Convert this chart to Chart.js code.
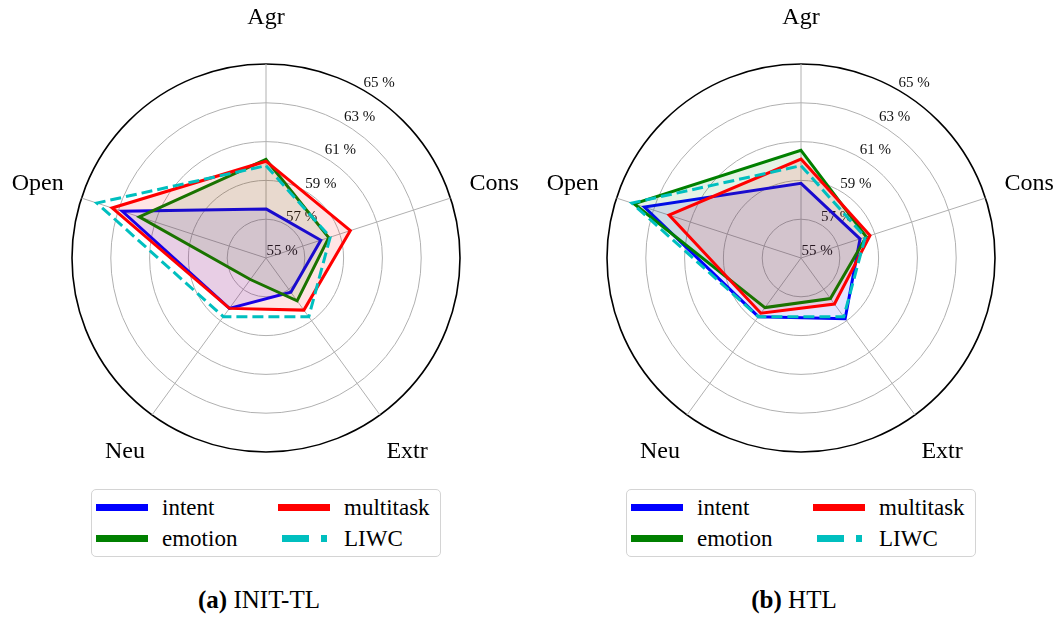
<!DOCTYPE html>
<html><head><meta charset="utf-8">
<script src="https://cdn.jsdelivr.net/npm/chart.js@4"></script>
<style>
body{margin:0;background:#fff;width:1059px;height:617px;overflow:hidden;position:relative;font-family:"Liberation Serif","Times New Roman",serif;}
canvas{position:absolute;top:0}
.legend{position:absolute;top:489px;width:350px;height:68px;box-sizing:border-box;border:1.5px solid #d4d4d4;border-radius:5px;background:#fff}
.h{position:absolute;height:7px}
.t{position:absolute;font-family:"Liberation Serif","Times New Roman",serif;font-size:23px;line-height:23px;color:#000;white-space:nowrap}
.cap{position:absolute;top:587px;width:300px;text-align:center;font-family:"Liberation Serif","Times New Roman",serif;font-size:25px;line-height:25px;color:#000;white-space:nowrap}
</style></head>
<body>
<canvas id="c1" width="530" height="480" style="left:0"></canvas>
<canvas id="c2" width="524" height="480" style="left:535px"></canvas>

<div class="legend" style="left:91px">
  <div class="h" style="left:4px;top:13.5px;width:52px;background:#0000ff"></div>
  <div class="t" style="left:70px;top:6px">intent</div>
  <div class="h" style="left:186px;top:13.5px;width:52px;background:#ff0000"></div>
  <div class="t" style="left:252px;top:6px">multitask</div>
  <div class="h" style="left:4px;top:44.5px;width:52px;background:#008000"></div>
  <div class="t" style="left:70px;top:36.7px">emotion</div>
  <div class="h" style="left:190px;top:44.5px;width:45px;background:linear-gradient(to right,#00bfbf 0 26.7px,transparent 26.7px 39px,#00bfbf 39px 45px)"></div>
  <div class="t" style="left:252px;top:36.7px">LIWC</div>
</div>
<div class="legend" style="left:626px">
  <div class="h" style="left:4px;top:13.5px;width:52px;background:#0000ff"></div>
  <div class="t" style="left:70px;top:6px">intent</div>
  <div class="h" style="left:186px;top:13.5px;width:52px;background:#ff0000"></div>
  <div class="t" style="left:252px;top:6px">multitask</div>
  <div class="h" style="left:4px;top:44.5px;width:52px;background:#008000"></div>
  <div class="t" style="left:70px;top:36.7px">emotion</div>
  <div class="h" style="left:190px;top:44.5px;width:45px;background:linear-gradient(to right,#00bfbf 0 26.7px,transparent 26.7px 39px,#00bfbf 39px 45px)"></div>
  <div class="t" style="left:252px;top:36.7px">LIWC</div>
</div>
<div class="cap" style="left:109px"><b>(a)</b> INIT-TL</div>
<div class="cap" style="left:644px"><b>(b)</b> HTL</div>

<script>
const categories = ['Agr', 'Cons', 'Extr', 'Neu', 'Open'];
const tickValues = [55, 57, 59, 61, 63, 65];
const tickLabels = ['55 %', '57 %', '59 %', '61 %', '63 %', '65 %'];
const seriesNames = ['intent', 'emotion', 'multitask', 'LIWC'];

// (a) INIT-TL
const intentInit    = [57.53, 57.97, 57.18, 58.21, 62.79];
const emotionInit   = [60.08, 58.40, 57.73, 56.37, 61.87];
const multitaskInit = [59.99, 59.57, 58.32, 58.21, 63.34];
// (b) HTL
const intentHtl     = [58.85, 58.20, 58.87, 58.74, 63.49];
const emotionHtl    = [60.55, 58.54, 57.58, 58.16, 64.05];
const multitaskHtl  = [60.10, 58.74, 57.93, 58.52, 62.15];
// LIWC baseline (same in both)
const liwc          = [59.76, 58.48, 58.75, 58.74, 64.17];

const lineColors = ['#0000ff', '#008000', '#ff0000', '#00bfbf'];
const fillColors = ['rgba(0,0,255,0.1)', 'rgba(0,128,0,0.1)', 'rgba(255,0,0,0.1)', 'rgba(0,0,0,0)'];
const serifFont = '"Liberation Serif", "Times New Roman", serif';

const labelPlugin = {
  id: 'polarLabels',
  beforeDatasetsDraw(chart) {
    const s = chart.scales.r, ctx = chart.ctx;
    ctx.save();
    ctx.font = '15px ' + serifFont;
    ctx.fillStyle = '#111';
    ctx.textAlign = 'left';
    ctx.textBaseline = 'middle';
    const a = 30 * Math.PI / 180;
    tickValues.forEach((v, i) => {
      const r = s.getDistanceFromCenterForValue(v);
      const x = s.xCenter + r * Math.sin(a);
      const y = s.yCenter - r * Math.cos(a);
      ctx.fillText(tickLabels[i], x + 0.5, y - 7);
    });
    ctx.restore();
  },
  afterDraw(chart) {
    const s = chart.scales.r, ctx = chart.ctx;
    ctx.save();
    ctx.font = '24px ' + serifFont;
    ctx.fillStyle = '#000';
    ctx.textAlign = 'center';
    ctx.textBaseline = 'middle';
    categories.forEach((c, i) => {
      const p = s.getPointPosition(i, s.drawingArea + 46);
      ctx.fillText(c, p.x, p.y);
    });
    ctx.restore();
  }
};

function makeChart(id, series, pad) {
  const datasets = series.map((d, i) => ({
    label: seriesNames[i],
    data: d,
    borderColor: lineColors[i],
    backgroundColor: fillColors[i],
    fill: i < 3 ? 'start' : false,
    borderWidth: 3,
    borderDash: i === 3 ? [11, 5] : [],
    pointRadius: 0,
    pointHoverRadius: 0,
    tension: 0,
    order: 3 - i
  }));
  return new Chart(document.getElementById(id), {
    type: 'radar',
    data: { labels: categories, datasets },
    options: {
      responsive: false,
      animation: false,
      devicePixelRatio: 1,
      layout: { padding: pad },
      plugins: { legend: { display: false }, tooltip: { enabled: false } },
      scales: {
        r: {
          min: 55, max: 65,
          ticks: { display: false, stepSize: 2 },
          grid: {
            circular: true,
            color: c => (c.tick && c.tick.value === 65) ? '#000000' : '#b0b0b0',
            lineWidth: c => (c.tick && c.tick.value === 65) ? 1.6 : 1
          },
          angleLines: { color: '#b0b0b0', lineWidth: 1 },
          pointLabels: { display: false }
        }
      }
    },
    plugins: [labelPlugin]
  });
}

makeChart('c1', [intentInit, emotionInit, multitaskInit, liwc], { left: 72, right: 70, top: 64, bottom: 28 });
makeChart('c2', [intentHtl, emotionHtl, multitaskHtl, liwc], { left: 72, right: 64, top: 64, bottom: 28 });
</script>
</body></html>
